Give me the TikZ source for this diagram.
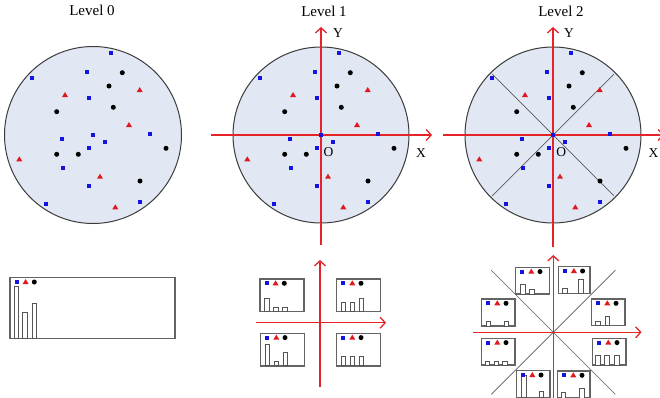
\documentclass[tikz,border=0pt]{standalone}
\usepackage{fontspec}
\setmainfont{Liberation Serif}
\usetikzlibrary{arrows.meta}
\definecolor{cfill}{RGB}{226,231,244}
\definecolor{axred}{RGB}{230,35,40}
\definecolor{mblue}{RGB}{20,20,225}
\definecolor{mred}{RGB}{225,25,30}
\definecolor{boxgray}{RGB}{100,100,100}
\definecolor{bargray}{RGB}{85,85,85}
\definecolor{circgray}{RGB}{60,60,60}
\definecolor{diaggray}{RGB}{90,90,90}
\tikzset{
 sq/.pic={\fill[mblue] (-2,-2) rectangle (2,2);},
 dt/.pic={\fill[black] (0,0) circle (2.5pt);},
 tr/.pic={\fill[mred] (0,-3) -- (3,2) -- (-3,2) -- cycle;},
 disc/.style={fill=cfill, draw=circgray, line width=1pt},
 axis/.style={draw=axred, line width=1.4pt, -{Straight Barb[length=5pt,width=11pt,line width=1.3pt]}},
 diag/.style={draw=diaggray, line width=0.7pt},
 boxline/.style={draw=boxgray, line width=1.4pt, fill=white},
 barline/.style={draw=bargray, line width=0.8pt, fill=white},
 lvl/.style={font=\fontsize{15}{16}\selectfont, anchor=base, inner sep=0pt},
 axlbl/.style={font=\fontsize{13.5}{15}\selectfont, anchor=base, inner sep=0pt},
}
\newcommand{\scatterpts}{%
 \foreach \a/\b in {17.7/-81.7,-5.7/-63.3,-60.7/-57.3,-3.7/-36.7,-30.7/4.3,0.3/-0.3,12/7,-3.7/13.3,57.3/-1.3,-30.3/32.7,-3.7/51,-47.3/68.7,47/67.3}
   \pic at (\a,\b) {sq};
 \foreach \a/\b in {29.3/-62.3,16/-49,20.3/-27.7,-36.3/-23.3,-36.3/19.3,-14.7/19.3,73/13.3,47/46}
   \pic at (\a,\b) {dt};
 \foreach \a/\b in {46.7/-45,-28/-40,36/-10,-73.7/24.3,7/41.7,22.3/72.3}
   \pic at (\a,\b) {tr};
}
\newcommand{\hist}[6]{%
 \draw[boxline] (#2,#3) rectangle ++(#4,#5) coordinate (#1);
 \foreach \s/\h in {#6} \draw[barline] (#2+\s,#3+#5) rectangle ++(4.8,-\h);
 \pic at (#2+6.7,#3+4.3) {sq};
 \pic at (#2+15.6,#3+4.3) {tr};
 \pic at (#2+24.3,#3+4.3) {dt};
}
\begin{document}
\begin{tikzpicture}[x=1pt,y=-1pt]
\useasboundingbox (0,0) rectangle (660,397);
\clip (0,0) rectangle (660,397);
% titles
\node[lvl] (t0) at (92,15.5) {Level 0};
\node[lvl] (t1) at (324,16) {Level 1};
\node[lvl] (t2) at (561,16.5) {Level 2};
% Level 0 top
\begin{scope}[shift={(93,135)}]
 \draw[disc] (0,0) circle (88.5pt);
 \scatterpts
\end{scope}
% Level 1 top
\begin{scope}[shift={(321,135)}]
 \draw[disc] (0,0) circle (88pt);
 \coordinate (xa1) at (-110,0); \coordinate (xb1) at (111,0);
 \coordinate (ya1) at (0,110); \coordinate (yb1) at (0,-108);
 \draw[axis] (xa1) -- (xb1);
 \draw[axis] (ya1) -- (yb1);
 \scatterpts
\end{scope}
\node[axlbl] (Y1) at (338,37.3) {Y};
\node[axlbl] (X1) at (421,157.3) {X};
\node[axlbl] (O1) at (328.5,156.7) {O};
% Level 2 top
\begin{scope}[shift={(553,135)}]
 \draw[disc] (0,0) circle (88pt);
 \coordinate (d1) at (45:86pt); \coordinate (d2) at (225:86pt);
 \coordinate (d3) at (135:86pt); \coordinate (d4) at (315:86pt);
 \draw[diag] (d1) -- (d2);
 \draw[diag] (d3) -- (d4);
 \coordinate (xa2) at (-110,0); \coordinate (xb2) at (111,0);
 \coordinate (ya2) at (0,112); \coordinate (yb2) at (0,-108);
 \draw[axis] (xa2) -- (xb2);
 \draw[axis] (ya2) -- (yb2);
 \scatterpts
\end{scope}
\node[axlbl] (Y2) at (569,37.3) {Y};
\node[axlbl] (X2) at (653.5,157.3) {X};
\node[axlbl] (O2) at (561.3,156.7) {O};
% Level 0 bottom
\hist{h0}{10}{277.7}{165}{60.6}{4/51.6,12.7/25.6,22/34.6}
% Level 1 bottom
\coordinate (bxa1) at (255.7,322.7); \coordinate (bxb1) at (386,322.7);
\coordinate (bya1) at (320,386.7); \coordinate (byb1) at (320,260);
\draw[axis] (bxa1) -- (bxb1);
\draw[axis] (bya1) -- (byb1);
\hist{hA}{260}{279}{44}{32.5}{4.3/13.3,13.3/4.3,22.3/4.3}
\hist{hB}{336.7}{279}{44}{32.5}{4.3/9.3,13.3/9.3,22.3/13.3}
\hist{hC}{260.7}{333.3}{44}{32.5}{4.3/21.7,13.3/4.7,22.3/13.3}
\hist{hD}{336.7}{333.3}{44}{32.5}{4.3/9,13.3/9,22.3/9}
% Level 2 bottom
\coordinate (q1) at (491.3,270.3); \coordinate (q2) at (615.3,394.3);
\coordinate (q3) at (491.3,394.3); \coordinate (q4) at (615.3,270.3);
\draw[diag] (q1) -- (q2);
\draw[diag] (q3) -- (q4);
\coordinate (bxa2) at (473,332.3); \coordinate (bxb2) at (641.5,332.3);
\coordinate (bya2) at (553.3,400); \coordinate (byb2) at (553.3,255);
\draw[axis] (bxa2) -- (bxb2);
\draw[axis] (bya2) -- (byb2);
\hist{gA}{515.7}{267.3}{33.6}{26.8}{5/9.7,13.7/4.7}
\hist{gB}{481.7}{299}{33.4}{27}{4.3/4.3,22.3/4.3}
\hist{gC}{481.7}{338.3}{33.4}{26.8}{3.3/4,12.3/4,21/4}
\hist{gD}{516.7}{370.7}{33.4}{27}{5/22,22.3/6}
\hist{gE}{558.3}{266.7}{31.7}{26.7}{4/5,20/14.3}
\hist{gF}{591.7}{299}{33.3}{26.7}{4/4.7,13.3/9}
\hist{gG}{592.7}{338.3}{33.3}{26.7}{2.5/10,11.5/10,21.5/10}
\hist{gH}{557.7}{371}{32.4}{27}{3.3/5.3,21.7/10}
\end{tikzpicture}
\end{document}
